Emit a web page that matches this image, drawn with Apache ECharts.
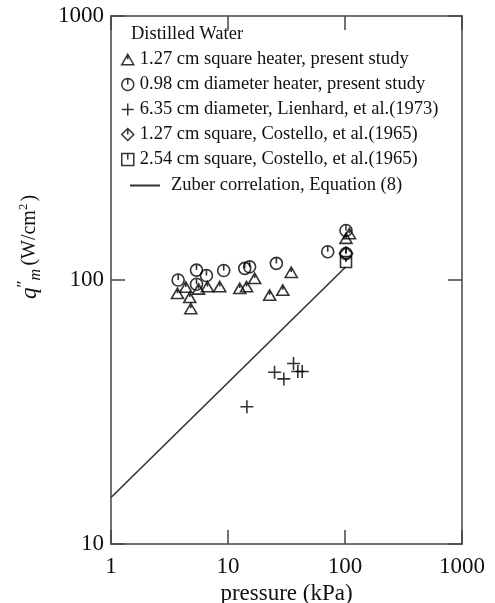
<!DOCTYPE html>
<html><head><meta charset="utf-8">
<script src="https://cdn.jsdelivr.net/npm/echarts@6/dist/echarts.min.js"></script>
<style>html,body{margin:0;padding:0;background:#fff}#c{width:495px;height:603px}</style>
</head><body><div id="c"></div>
<script>
// ---- data (pressure kPa, heat flux W/cm2) ----
const squareHeaterPresent = [[3.7,89],[4.36,94],[4.71,86],[4.81,78],[5.6,92.5],[6.67,94.4],[8.5,94.4],[12.6,93],[14.4,94.4],[16.9,101.5],[22.7,87.7],[29.4,91.6],[34.7,107],[102,144],[109,150]];
const diameterHeaterPresent = [[3.75,100],[5.38,109],[5.38,96.4],[6.54,104],[9.19,108.6],[13.9,110.7],[15.3,112.2],[25.9,115.6],[71.2,128],[102,154],[102,126]];
const lienhard = [[14.5,33.1],[25.0,44.7],[30.0,42.2],[36.3,48.3],[39.5,45.0],[43.1,45.0]];
const costelloSquare127 = [[102,126]];
const costelloSquare254 = [[102,117]];
const zuber = [[1,15],[101.3,112]];
const xTicks = [1,10,100,1000];
const yTicks = [10,100,1000];

const names = ['1.27 cm square heater, present study','0.98 cm diameter heater, present study','6.35 cm diameter, Lienhard, et al.(1973)','1.27 cm square, Costello, et al.(1965)','2.54 cm square, Costello, et al.(1965)','Zuber correlation, Equation (8)'];

const FONT = 'Liberation Serif';
const INK = '#111';
const AX = '#444';

const symTri = 'path://M6,0L12,10.4L0,10.4Z M6,0L6,5';
const symCir = 'path://M6,0A6,6 0 1,1 5.99,0Z M6,0L6,6';
const symPlus = 'path://M6,0L6,12 M0,6L12,6';
const symDia = 'path://M6,0L12,6L6,12L0,6Z M6,0L6,6';
const symSq = 'path://M0,0L11,0L11,11L0,11Z M5.5,0L5.5,5.5';

function sc(name, data, sym, size){
  return {type:'scatter', name, data, symbol:sym, symbolSize:size, symbolKeepAspect:true,
    itemStyle:{color:'rgba(255,255,255,0)', borderColor:'#000', borderWidth:1.6},
    emphasis:{disabled:true}, z:3};
}

const axisCommon = {
  type:'log', logBase:10,
  axisLine:{lineStyle:{color:AX, width:1.5}},
  axisTick:{inside:true, length:14, lineStyle:{color:AX, width:1.5}},
  minorTick:{show:false}, splitLine:{show:false}
};
const fmt = v => String(Math.round(v));

const chart = echarts.init(document.getElementById('c'), null, {renderer:'canvas'});
chart.setOption({
  animation:false,
  backgroundColor:'#fff',
  grid:{left:111, right:33, top:16, bottom:59, containLabel:false, outerBoundsMode:'none'},
  title:{text:'Distilled Water', left:126, top:20, textStyle:{fontFamily:FONT, fontSize:18.5, fontWeight:'normal', color:INK}},
  legend:[
    {data:names.slice(0,5), orient:'vertical', left:116, top:45, itemWidth:12, itemHeight:12, itemGap:6,
     textStyle:{fontFamily:FONT, fontSize:18.5, color:INK, padding:[0,0,0,1], lineHeight:17},
     itemStyle:{color:'rgba(255,255,255,0)', borderColor:'#000', borderWidth:1.5}, selectedMode:false},
    {data:[names[5]], orient:'vertical', left:125, top:171, itemWidth:30, itemHeight:2, icon:'rect',
     textStyle:{fontFamily:FONT, fontSize:18.5, color:INK, padding:[0,0,0,6]}, selectedMode:false}
  ],
  xAxis:[
    Object.assign({}, axisCommon, {position:'bottom', min:xTicks[0], max:xTicks[xTicks.length-1],
      name:'pressure (kPa)', nameLocation:'middle', nameGap:37,
      nameTextStyle:{fontFamily:FONT, fontSize:23, color:INK},
      axisLabel:{fontFamily:FONT, fontSize:23, color:INK, margin:11, formatter:fmt}}),
    Object.assign({}, axisCommon, {position:'top', min:xTicks[0], max:xTicks[xTicks.length-1], axisLabel:{show:false}})
  ],
  yAxis:[
    Object.assign({}, axisCommon, {position:'left', min:yTicks[0], max:yTicks[yTicks.length-1],
      axisLabel:{fontFamily:FONT, fontSize:23, color:INK, margin:7, formatter:fmt}}),
    Object.assign({}, axisCommon, {position:'right', min:yTicks[0], max:yTicks[yTicks.length-1], axisLabel:{show:false}})
  ],
  graphic:[{
    type:'text', x:30, y:247, rotation:Math.PI/2, origin:[0,0],
    style:{
      text:'{q|q}{pp|″}{m|m} {n|(W/cm}{s|2}{n|)}',
      x:0, y:0, align:'center', verticalAlign:'middle',
      rich:{
        q:{fontFamily:FONT, fontStyle:'italic', fontSize:23, fill:INK},
        pp:{fontFamily:FONT, fontSize:17, fill:INK, padding:[0,0,12,0]},
        m:{fontFamily:FONT, fontStyle:'italic', fontSize:16, fill:INK, padding:[12,0,0,0]},
        n:{fontFamily:FONT, fontSize:20, fill:INK},
        s:{fontFamily:FONT, fontSize:13, fill:INK, padding:[0,2,12,0]}
      }
    }
  }],
  series:[
    sc(names[0], squareHeaterPresent, symTri, 12),
    sc(names[1], diameterHeaterPresent, symCir, 12),
    sc(names[2], lienhard, symPlus, 13),
    sc(names[3], costelloSquare127, symDia, 13),
    sc(names[4], costelloSquare254, symSq, 11),
    {type:'line', name:names[5], data:zuber, symbol:'none', lineStyle:{color:'#333', width:1.6}, itemStyle:{color:'#333'}, z:2}
  ]
});
</script></body></html>
